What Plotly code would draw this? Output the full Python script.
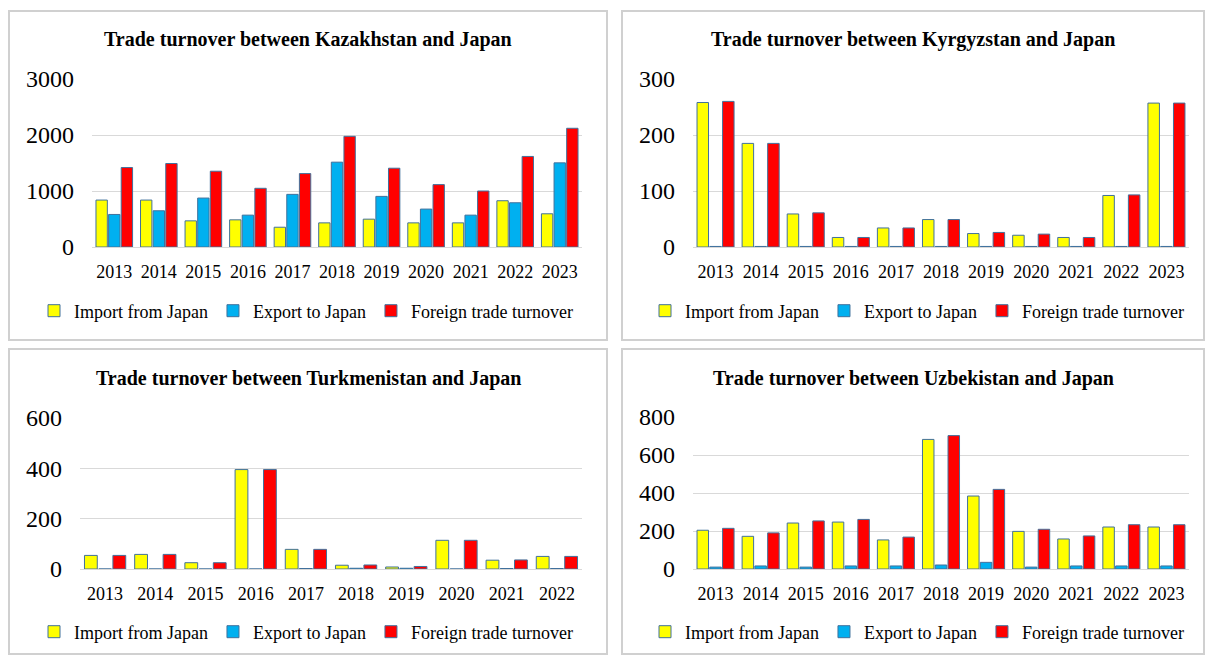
import plotly.graph_objects as go

# data
years = ["2013", "2014", "2015", "2016", "2017", "2018", "2019", "2020", "2021", "2022", "2023"]
years_tm = years[:10]

kz_import = [838, 838, 467, 485, 353, 431, 497, 431, 431, 826, 593]
kz_export = [581, 647, 874, 569, 940, 1515, 904, 677, 569, 790, 1503]
kz_total = [1419, 1491, 1353, 1048, 1311, 1976, 1407, 1114, 1000, 1617, 2120]

kg_import = [258, 185, 59, 17, 34, 49, 24, 21, 17, 92, 257]
kg_export = [1, 1, 1, 1, 1, 1, 1, 1, 1, 1, 1]
kg_total = [260, 185, 61, 17, 34, 49, 26, 23, 17, 93, 257]

tm_import = [54, 58, 25, 395, 78, 15, 8, 114, 35, 50]
tm_export = [0, 0, 0, 0, 2, 3, 3, 0, 2, 2]
tm_total = [54, 58, 25, 395, 78, 16, 10, 114, 36, 50]

uz_import = [204, 172, 242, 247, 153, 682, 384, 198, 158, 221, 221]
uz_export = [10, 16, 10, 16, 16, 21, 35, 10, 16, 16, 16]
uz_total = [214, 190, 253, 261, 168, 702, 419, 209, 174, 233, 233]

series_names = ["Import from Japan", "Export to Japan", "Foreign trade turnover"]
colors = ["#FFFF00", "#00B0F0", "#FF0000"]
OUTLINE = "#41719C"
GRID = "#D9D9D9"
FONT = "Liberation Serif, Times New Roman, serif"

W, H = 1206, 655


def fx(p):
    return p / W


def fy(p):
    return 1 - p / H


# title, categories, series, y max, x domain (px), y domain (px), frame (px), title y, legend pos
panels = [
    ("Trade turnover between Kazakhstan and Japan", years, (kz_import, kz_export, kz_total), 3000, 1000,
     (92, 582), (247, 79), (9, 11, 607, 340), 40, (306, 311)),
    ("Trade turnover between Kyrgyzstan and Japan", years, (kg_import, kg_export, kg_total), 300, 100,
     (693, 1189), (247, 79), (622, 11, 1204, 340), 40, (917, 311)),
    ("Trade turnover between Turkmenistan and Japan", years_tm, (tm_import, tm_export, tm_total), 600, 200,
     (80, 582), (569, 418), (9, 349, 607, 654), 378, (306, 632)),
    ("Trade turnover between Uzbekistan and Japan", years, (uz_import, uz_export, uz_total), 800, 200,
     (693, 1189), (569, 417), (622, 349, 1204, 654), 378, (917, 632)),
]

fig = go.Figure()
layout = {}
shapes = []
annotations = []

for i, (title, cats, series, ymax, dtick, xd, yd, box, ty, lg) in enumerate(panels):
    sfx = "" if i == 0 else str(i + 1)
    for name, vals, col in zip(series_names, series, colors):
        fig.add_trace(go.Bar(
            x=cats, y=vals, name=name,
            marker=dict(color=col, line=dict(color=OUTLINE, width=1)),
            xaxis="x" + sfx, yaxis="y" + sfx, legend="legend" + sfx,
        ))

    layout["xaxis" + sfx] = dict(
        domain=[fx(xd[0]), fx(xd[1])], anchor="y" + sfx, type="category",
        showgrid=False, showline=True, linecolor=GRID, linewidth=1, ticks="",
        tickfont=dict(family=FONT, size=18, color="black"), ticklabelstandoff=8,
        fixedrange=True, automargin=False,
    )
    layout["yaxis" + sfx] = dict(
        domain=[fy(yd[0]), fy(yd[1])], anchor="x" + sfx, range=[0, ymax], dtick=dtick,
        showgrid=True, gridcolor=GRID, gridwidth=1, zeroline=False, showline=False,
        ticks="", tickfont=dict(family=FONT, size=24, color="black"), ticklabelstandoff=17,
        fixedrange=True, automargin=False,
    )
    layout["legend" + sfx] = dict(
        orientation="h", x=fx(lg[0]), y=fy(lg[1]), xanchor="center", yanchor="middle",
        font=dict(family=FONT, size=18, color="black"), bgcolor="rgba(0,0,0,0)",
        itemclick=False, itemdoubleclick=False,
    )

    shapes.append(dict(type="rect", xref="paper", yref="paper",
                       x0=fx(box[0]), x1=fx(box[2]), y0=fy(box[3]), y1=fy(box[1]),
                       line=dict(color="#D0D0D0", width=2), layer="below"))
    annotations.append(dict(xref="paper", yref="paper", x=fx((box[0] + box[2]) / 2), y=fy(ty),
                            xanchor="center", yanchor="middle", showarrow=False,
                            text="<b>" + title + "</b>",
                            font=dict(family=FONT, size=20, color="black")))

fig.update_layout(
    width=W, height=H, margin=dict(l=0, r=0, t=0, b=0, pad=0, autoexpand=False),
    paper_bgcolor="white", plot_bgcolor="white",
    barmode="group", bargap=0.15, bargroupgap=0.1,
    shapes=shapes, annotations=annotations,
    **layout,
)

# pin the page to the window: no body margin, no extra scroll height
page_css = (
    "var s=document.documentElement.style, b=document.body.style;"
    "s.margin='0';s.padding='0';s.overflow='hidden';"
    "b.margin='0';b.padding='0';b.overflow='hidden';"
)
fig.write_html("out.html", config={"displayModeBar": False}, post_script=page_css)
